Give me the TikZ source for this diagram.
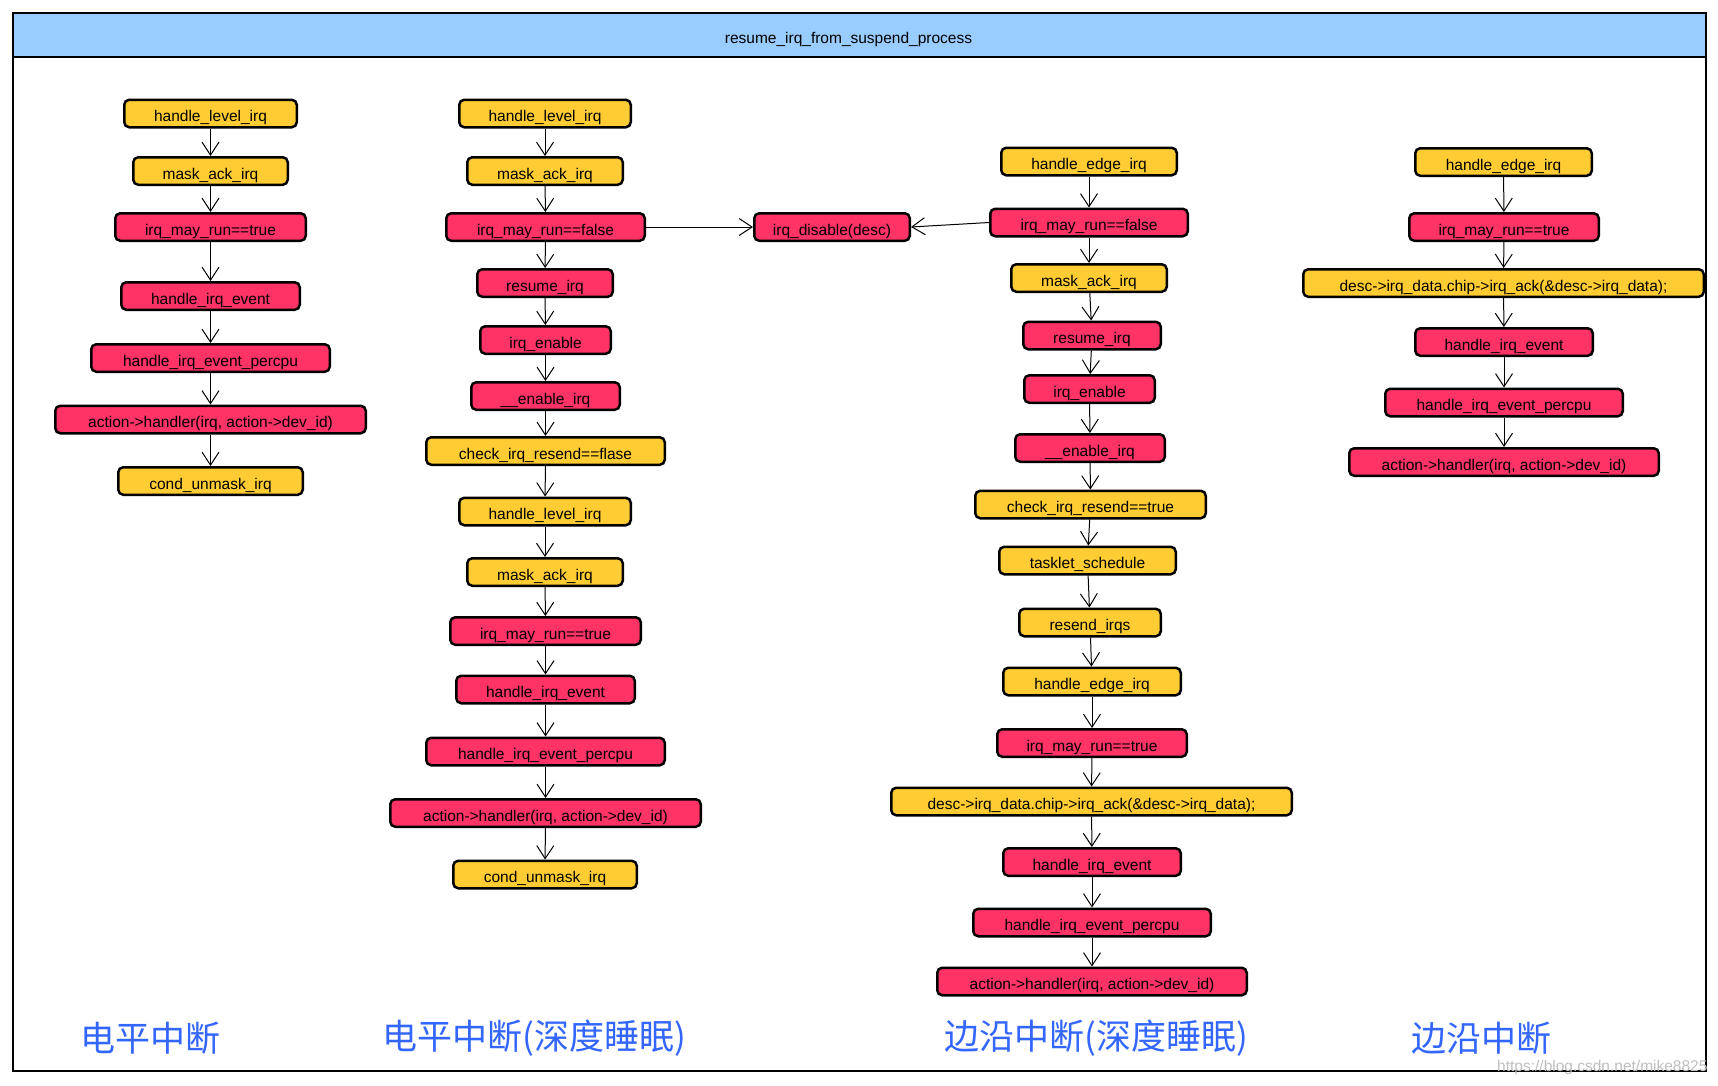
\documentclass[tikz,border=0pt]{standalone}
\usepackage{fontspec}
\setmainfont{Liberation Sans}
\newfontfamily\cjk{Noto Sans CJK SC}
\usetikzlibrary{arrows.meta}
\definecolor{ybox}{HTML}{FFCC33}
\definecolor{rbox}{HTML}{FF3366}
\definecolor{hdr}{HTML}{99CCFF}
\definecolor{lbl}{HTML}{3366FF}
\begin{document}
\begin{tikzpicture}[x=1pt,y=-1pt,
  box/.style={draw=black, line width=2.5pt, rounded corners=5pt, minimum height=27.5pt,
    inner sep=0pt, text height=16pt, text depth=0pt, text=black, font=\fontsize{15.5}{18}\selectfont},
  yb/.style={box, fill=ybox},
  rb/.style={box, fill=rbox},
  w/.style={minimum width=#1pt-2.5pt},
  flow/.style={-{Straight Barb[length=13pt,width=17pt]}, line width=1pt, draw=black},
  cnlabel/.style={anchor=west, inner sep=0pt, text=lbl, font=\fontsize{35}{40}\selectfont\cjk}]

\fill[white] (0,0) rectangle (1718,1085);
\useasboundingbox (0,0) rectangle (1718,1085);

% frame and header
\draw[line width=2.5pt, fill=white] (13,13) rectangle (1706,1071);
\draw[line width=2.5pt, fill=hdr] (13,13) rectangle (1706,57);
\node[font=\fontsize{15.5}{18}\selectfont, inner sep=0pt, anchor=base] (title) at (848.5,43) {resume\_irq\_from\_suspend\_process};

% column 1
\node[yb, w=175] (a1) at (210.5,113.5) {handle\_level\_irq};
\node[yb, w=157] (a2) at (210.5,171) {mask\_ack\_irq};
\node[rb, w=193] (a3) at (210.5,227) {irq\_may\_run==true};
\node[rb, w=181] (a4) at (210.5,296) {handle\_irq\_event};
\node[rb, w=241] (a5) at (210.5,358) {handle\_irq\_event\_percpu};
\node[rb, w=313] (a6) at (210.5,419.5) {action->handler(irq, action->dev\_id)};
\node[yb, w=187] (a7) at (210.5,481) {cond\_unmask\_irq};
\draw[flow] (a1) -- (a2);
\draw[flow] (a2) -- (a3);
\draw[flow] (a3) -- (a4);
\draw[flow] (a4) -- (a5);
\draw[flow] (a5) -- (a6);
\draw[flow] (a6) -- (a7);

% column 2
\node[yb, w=174] (b1) at (545,113.5) {handle\_level\_irq};
\node[yb, w=158] (b2) at (545,171) {mask\_ack\_irq};
\node[rb, w=201] (b3) at (545.5,227) {irq\_may\_run==false};
\node[rb, w=138] (b4) at (545,283) {resume\_irq};
\node[rb, w=133] (b5) at (545.5,340) {irq\_enable};
\node[rb, w=151] (b6) at (545.5,396) {\_\_enable\_irq};
\node[yb, w=241] (b7) at (545.5,451) {check\_irq\_resend==flase};
\node[yb, w=174] (b8) at (545,511.5) {handle\_level\_irq};
\node[yb, w=158] (b9) at (545,572) {mask\_ack\_irq};
\node[rb, w=193] (b10) at (545.5,631) {irq\_may\_run==true};
\node[rb, w=181] (b11) at (545.5,689.5) {handle\_irq\_event};
\node[rb, w=241] (b12) at (545.5,751.5) {handle\_irq\_event\_percpu};
\node[rb, w=313] (b13) at (545.5,813) {action->handler(irq, action->dev\_id)};
\node[yb, w=186] (b14) at (545,874.5) {cond\_unmask\_irq};
\foreach \p/\q in {b1/b2,b2/b3,b3/b4,b4/b5,b5/b6,b6/b7,b7/b8,b8/b9,b9/b10,b10/b11,b11/b12,b12/b13,b13/b14}
  \draw[flow] (\p) -- (\q);

% shared node
\node[rb, w=158] (dis) at (832,227) {irq\_disable(desc)};

% column 3
\node[yb, w=178] (c1) at (1089,161.5) {handle\_edge\_irq};
\node[rb, w=200] (c2) at (1089,222.5) {irq\_may\_run==false};
\node[yb, w=158] (c3) at (1089,278) {mask\_ack\_irq};
\node[rb, w=140] (c4) at (1092,335.5) {resume\_irq};
\node[rb, w=133] (c5) at (1089.5,389) {irq\_enable};
\node[rb, w=152] (c6) at (1090,448) {\_\_enable\_irq};
\node[yb, w=233] (c7) at (1090.5,504.5) {check\_irq\_resend==true};
\node[yb, w=179] (c8) at (1087.5,560.5) {tasklet\_schedule};
\node[yb, w=144] (c9) at (1090,622.5) {resend\_irqs};
\node[yb, w=180] (c10) at (1092,681.5) {handle\_edge\_irq};
\node[rb, w=192] (c11) at (1092,743) {irq\_may\_run==true};
\node[yb, w=403] (c12) at (1091.5,801.5) {desc->irq\_data.chip->irq\_ack(\&desc->irq\_data);};
\node[rb, w=180] (c13) at (1092,862) {handle\_irq\_event};
\node[rb, w=240] (c14) at (1092,922.5) {handle\_irq\_event\_percpu};
\node[rb, w=312] (c15) at (1092,981.5) {action->handler(irq, action->dev\_id)};
\foreach \p/\q in {c1/c2,c2/c3,c3/c4,c4/c5,c5/c6,c6/c7,c7/c8,c8/c9,c9/c10,c10/c11,c11/c12,c12/c13,c13/c14,c14/c15}
  \draw[flow] (\p) -- (\q);

% links to irq_disable
\draw[flow] (b3.east) -- (dis.west);
\draw[flow] (c2.west) -- (dis.east);

% column 4
\node[yb, w=179] (d1) at (1503.5,162) {handle\_edge\_irq};
\node[rb, w=192] (d2) at (1504,227) {irq\_may\_run==true};
\node[yb, w=403] (d3) at (1503.5,283) {desc->irq\_data.chip->irq\_ack(\&desc->irq\_data);};
\node[rb, w=180] (d4) at (1504,342) {handle\_irq\_event};
\node[rb, w=240] (d5) at (1504,402.5) {handle\_irq\_event\_percpu};
\node[rb, w=312] (d6) at (1504,462) {action->handler(irq, action->dev\_id)};
\foreach \p/\q in {d1/d2,d2/d3,d3/d4,d4/d5,d5/d6}
  \draw[flow] (\p) -- (\q);

% labels
\node[cnlabel] (l1) at (80,1038) {电平中断};
\node[cnlabel] (l2) at (382,1038) {电平中断(深度睡眠)};
\node[cnlabel] (l3) at (944,1038) {边沿中断(深度睡眠)};
\node[cnlabel] (l4) at (1411,1038) {边沿中断};

% watermark
\node[anchor=west, inner sep=0pt, text=black!25, font=\fontsize{15.5}{18}\selectfont] (wm) at (1497,1067) {https://blog.csdn.net/mike8825};
\end{tikzpicture}
\end{document}
